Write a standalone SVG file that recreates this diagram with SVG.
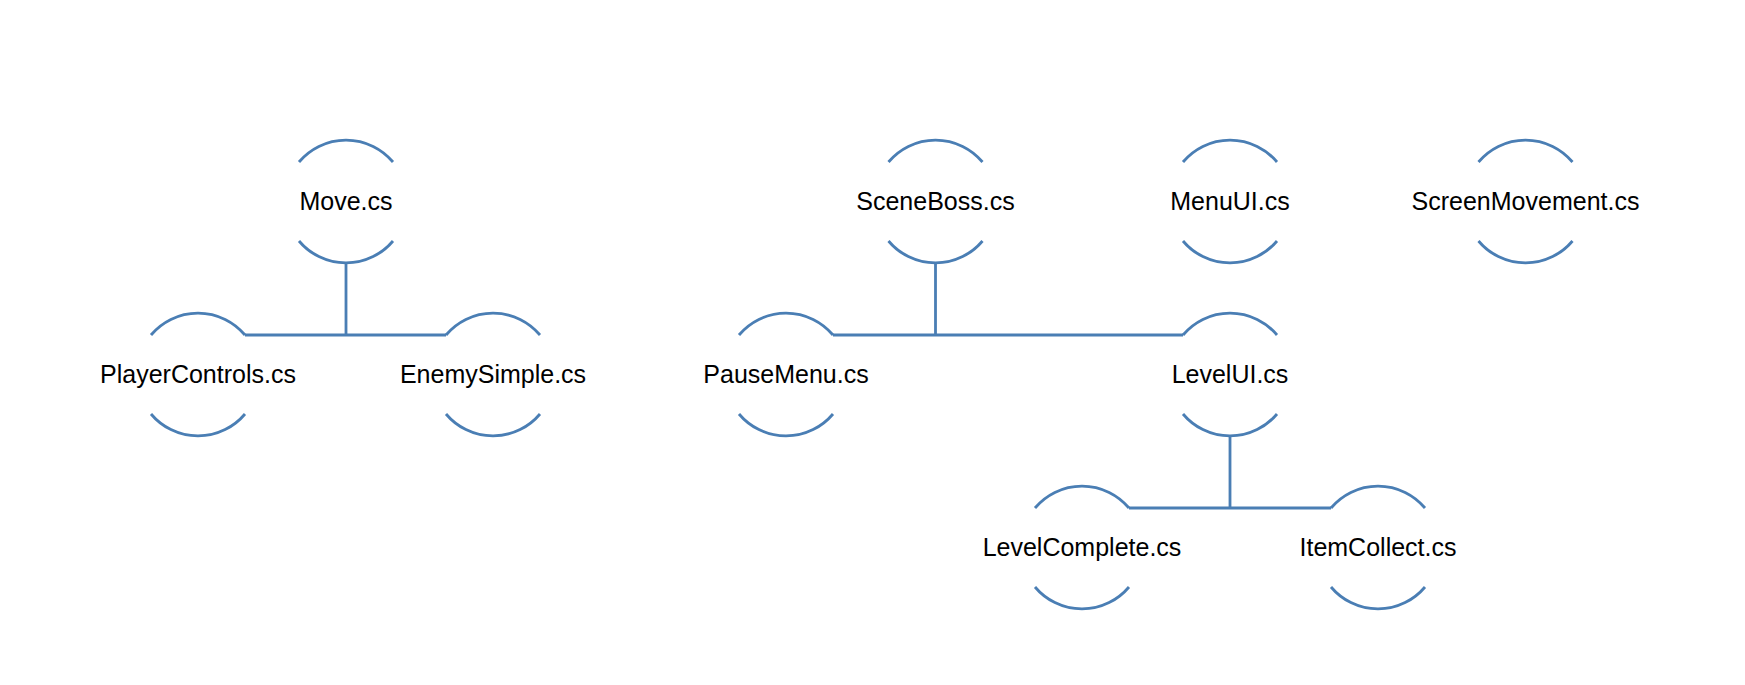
<svg xmlns="http://www.w3.org/2000/svg" xmlns:xlink="http://www.w3.org/1999/xlink" width="1745" height="685" viewBox="0 0 1745 685">
<style>
.arc{fill:none;stroke:#4a7eb4;stroke-width:2.8}
.con{fill:none;stroke:#4a7eb4;stroke-width:2.8}
.lbl{font-family:"Liberation Sans",Arial,sans-serif;font-size:25px;fill:#000;text-anchor:middle}
</style>
<defs>
<g id="ring">
<path class="arc" d="M -47 -39.5 A 61.4 61.4 0 0 1 47 -39.5"/>
<path class="arc" d="M -47 39.5 A 61.4 61.4 0 0 0 47 39.5"/>
</g>
</defs>
<rect width="1745" height="685" fill="#fff"/>
<g id="connectors">
<path class="con" d="M 346 262.5 V 335 M 245 335 H 446"/>
<path class="con" d="M 935.5 262.5 V 335 M 833 335 H 1183"/>
<path class="con" d="M 1230 435.5 V 508 M 1129 508 H 1331"/>
</g>
<g id="node-move"><use xlink:href="#ring" transform="translate(346,201.5)"/><text class="lbl" x="346" y="209.5">Move.cs</text></g>
<g id="node-playercontrols"><use xlink:href="#ring" transform="translate(198,374.5)"/><text class="lbl" x="198" y="382.5">PlayerControls.cs</text></g>
<g id="node-enemysimple"><use xlink:href="#ring" transform="translate(493,374.5)"/><text class="lbl" x="493" y="382.5">EnemySimple.cs</text></g>
<g id="node-sceneboss"><use xlink:href="#ring" transform="translate(935.5,201.5)"/><text class="lbl" x="935.5" y="209.5">SceneBoss.cs</text></g>
<g id="node-menuui"><use xlink:href="#ring" transform="translate(1230,201.5)"/><text class="lbl" x="1230" y="209.5">MenuUI.cs</text></g>
<g id="node-screenmovement"><use xlink:href="#ring" transform="translate(1525.5,201.5)"/><text class="lbl" x="1525.5" y="209.5">ScreenMovement.cs</text></g>
<g id="node-pausemenu"><use xlink:href="#ring" transform="translate(786,374.5)"/><text class="lbl" x="786" y="382.5">PauseMenu.cs</text></g>
<g id="node-levelui"><use xlink:href="#ring" transform="translate(1230,374.5)"/><text class="lbl" x="1230" y="382.5">LevelUI.cs</text></g>
<g id="node-levelcomplete"><use xlink:href="#ring" transform="translate(1082,547.5)"/><text class="lbl" x="1082" y="555.5">LevelComplete.cs</text></g>
<g id="node-itemcollect"><use xlink:href="#ring" transform="translate(1378,547.5)"/><text class="lbl" x="1378" y="555.5">ItemCollect.cs</text></g>
</svg>
